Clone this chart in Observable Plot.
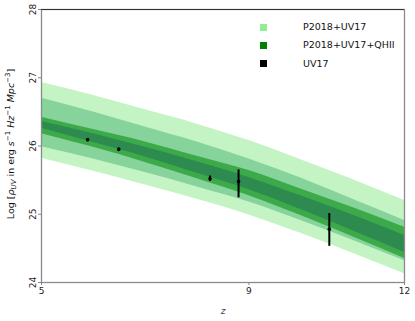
<!DOCTYPE html>
<html><head><meta charset="utf-8">
<script src="https://cdn.jsdelivr.net/npm/d3@7"></script>
<script src="https://cdn.jsdelivr.net/npm/@observablehq/plot@0.6"></script>
<style>
body{margin:0;background:#fff;font-family:"DejaVu Sans",sans-serif;}
#wrap{position:relative;width:415px;height:321px;}
.legend{position:absolute;left:260px;top:18px;font-size:9.5px;color:#111;line-height:18.3px;}
.legend .row{display:flex;align-items:center;height:18.3px;}
.legend .sw{width:7px;height:7px;margin-right:36px;}
</style></head><body><div id="wrap"></div>
<script>
// redshift samples
const z = [5, 6, 7, 8, 9, 10, 11, 12];
// P2018+UV17 outer (lightest) band
const lightHi = [26.93, 26.74, 26.53, 26.32, 26.08, 25.80, 25.51, 25.20];
const lightLo = [25.82, 25.63, 25.43, 25.22, 24.99, 24.72, 24.43, 24.13];
// P2018+UV17 inner band
const medHi = [26.70, 26.50, 26.28, 26.06, 25.81, 25.53, 25.22, 24.91];
const medLo = [25.99, 25.81, 25.61, 25.40, 25.18, 24.91, 24.62, 24.32];
// P2018+UV17+QHII outer band
const qOutHi = [26.42, 26.24, 26.06, 25.85, 25.64, 25.37, 25.10, 24.81];
const qOutLo = [26.18, 25.98, 25.76, 25.52, 25.27, 24.98, 24.67, 24.35];
// P2018+UV17+QHII inner band
const qInHi = [26.36, 26.18, 25.98, 25.77, 25.54, 25.27, 24.99, 24.69];
const qInLo = [26.26, 26.05, 25.84, 25.60, 25.36, 25.07, 24.76, 24.44];
// UV17 data points
const obsZ = [5.89, 6.49, 8.25, 8.80, 10.55];
const obsV = [26.09, 25.95, 25.52, 25.48, 24.78];
const obsHi = [26.11, 25.97, 25.56, 25.65, 25.01];
const obsLo = [26.07, 25.93, 25.48, 25.24, 24.53];
const xTicks = [5, 9, 12];
const yTicks = [24, 25, 26, 27, 28];
const legendLabels = ["P2018+UV17", "P2018+UV17+QHII", "UV17"];
const legendColors = ["#90ee90", "#008000", "#000000"];

const bands = z.map((d, i) => ({z: d, lH: lightHi[i], lL: lightLo[i], mH: medHi[i], mL: medLo[i],
  oH: qOutHi[i], oL: qOutLo[i], iH: qInHi[i], iL: qInLo[i]}));
const obs = obsZ.map((d, i) => ({z: d, v: obsV[i], hi: obsHi[i], lo: obsLo[i]}));

const plot = Plot.plot({
  width: 415, height: 321,
  marginLeft: 41, marginRight: 11, marginTop: 9, marginBottom: 39,
  style: {fontFamily: "DejaVu Sans, sans-serif", fontSize: "9px", background: "#fff", color: "#222"},
  x: {domain: [5, 12]},
  y: {domain: [24, 28]},
  marks: [
    Plot.areaY(bands, {x: "z", y1: "lL", y2: "lH", fill: "#c4f4c4", curve: "monotone-x"}),
    Plot.areaY(bands, {x: "z", y1: "mL", y2: "mH", fill: "#86d49c", curve: "monotone-x"}),
    Plot.areaY(bands, {x: "z", y1: "oL", y2: "oH", fill: "#3daa4a", curve: "monotone-x"}),
    Plot.areaY(bands, {x: "z", y1: "iL", y2: "iH", fill: "#2e8b50", curve: "monotone-x"}),
    Plot.ruleX(obs, {x: "z", y1: "lo", y2: "hi", stroke: "#000", strokeWidth: 2}),
    Plot.dot(obs, {x: "z", y: "v", r: 1.8, fill: "#000"}),
    Plot.frame({stroke: "#8a8a8a", strokeWidth: 1.3}),
    Plot.ruleY([28], {stroke: "#333", strokeWidth: 1.2}),
    Plot.axisX({ticks: xTicks, tickSize: 3, tickPadding: 2, tickFormat: d => String(d), label: null, stroke: "#888"}),
    Plot.axisY({ticks: yTicks, tickSize: 3, tickPadding: 3, tickRotate: -90, tickFormat: d => String(d), label: null, stroke: "#888"})
  ]
});
document.getElementById("wrap").appendChild(plot);

const svg = d3.select(plot);
// x label
svg.append("text").attr("x", 223).attr("y", 314).attr("text-anchor", "middle")
  .attr("font-style", "italic").attr("font-size", 9).attr("fill", "#444").text("z");
// y label
const yl = svg.append("text").attr("transform", "translate(14,144) rotate(-90)")
  .attr("text-anchor", "middle").attr("font-size", 9.5).attr("fill", "#111");
yl.append("tspan").text("Log [");
yl.append("tspan").attr("font-style", "italic").text("ρ");
yl.append("tspan").attr("font-style", "italic").attr("font-size", 7).attr("dy", 2).text("UV");
yl.append("tspan").attr("dy", -2).text(" in erg ");
yl.append("tspan").attr("font-style", "italic").text("s");
yl.append("tspan").attr("font-size", 7).attr("dy", -4).text("−1");
yl.append("tspan").attr("dy", 4).text(" ");
yl.append("tspan").attr("font-style", "italic").text("Hz");
yl.append("tspan").attr("font-size", 7).attr("dy", -4).text("−1");
yl.append("tspan").attr("dy", 4).text(" ");
yl.append("tspan").attr("font-style", "italic").text("Mpc");
yl.append("tspan").attr("font-size", 7).attr("dy", -4).text("−3");
yl.append("tspan").attr("dy", 4).text("]");

// legend
const lg = document.createElement("div");
lg.className = "legend";
legendLabels.forEach((t, i) => {
  const r = document.createElement("div"); r.className = "row";
  const s = document.createElement("span"); s.className = "sw"; s.style.background = legendColors[i];
  const l = document.createElement("span"); l.textContent = t;
  r.appendChild(s); r.appendChild(l); lg.appendChild(r);
});
document.getElementById("wrap").appendChild(lg);
</script></body></html>
